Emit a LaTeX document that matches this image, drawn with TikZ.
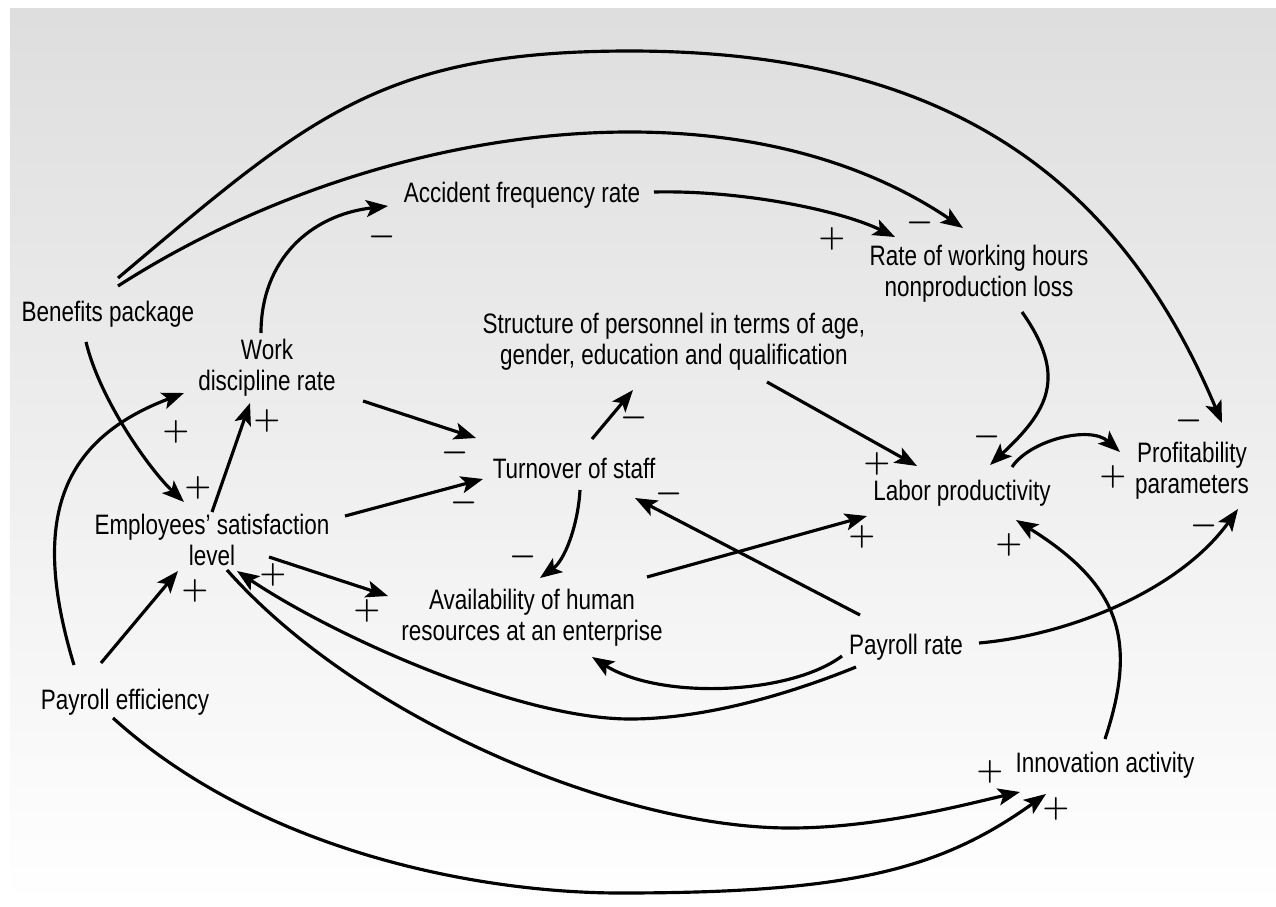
\documentclass[tikz,border=0pt]{standalone}
\usepackage{fontspec}
\setmainfont{Liberation Sans}[FakeStretch=0.8]
\usetikzlibrary{arrows.meta,calc}

\tikzset{
  factor/.style={align=center, inner sep=0pt, font=\fontsize{16}{17.5}\selectfont},
  link/.style={line width=1.8pt, -{Stealth[length=4.4mm,width=3.4mm,inset=1mm]}},
  sign/.style={inner sep=0pt, font=\fontsize{17}{17}\selectfont\boldmath},
}

\begin{document}
\begin{tikzpicture}[x=0.02cm, y=-0.02cm]
\useasboundingbox (0,0) rectangle (1276,907);
\shade[top color=black!13, bottom color=white] (10,8) rectangle (1276,907);

% factors
\node[factor] (ben) at (108,314) {Benefits package};
\node[factor] (acc) at (522,195) {Accident frequency rate};
\node[factor] (rwh) at (979,274) {Rate of working hours\\nonproduction loss};
\node[factor] (str) at (674,342) {Structure of personnel in terms of age,\\gender, education and qualification};
\node[factor] (wdr) at (267,368) {Work\\discipline rate};
\node[factor] (esl) at (212,540) {Employees’ satisfaction\\level};
\node[factor] (tos) at (574,468) {Turnover of staff};
\node[factor] (lab) at (962,493) {Labor productivity};
\node[factor] (prof) at (1192,471) {Profitability\\parameters};
\node[factor] (ahr) at (532,618) {Availability of human\\resources at an enterprise};
\node[factor] (pr) at (906,647) {Payroll rate};
\node[factor] (pe) at (125,702) {Payroll efficiency};
\node[factor] (inn) at (1105,765) {Innovation activity};

% turning points of the long arcs
\coordinate (topA) at (630,51);
\coordinate (lowB) at (630,719);
\coordinate (lowC) at (790,828);
\coordinate (lowD) at (620,893);

% links
\draw[link] ($(ben)+(10,-36)$) .. controls +(190,-160) and +(-250,0) .. (topA)
  .. controls +(320,0) and +(-102,-243) .. ($(prof)+(30,-48)$);
\draw[link] ($(ben)+(10,-28)$) .. controls +(252,-162) and +(-232,-157) .. ($(rwh)+(-16,-46)$);
\draw[link] ($(acc)+(132,-3)$) .. controls +(86,-2) and +(-55,-27) .. ($(rwh)+(-84,-37)$);
\draw[link] ($(wdr)+(-6,-35)$) .. controls +(0,-73) and +(-78,9) .. ($(acc)+(-134,11)$);
\draw[link] ($(rwh)+(43,38)$) .. controls +(46,65) and +(58,-54) .. ($(lab)+(28,-28)$);
\draw[link] ($(lab)+(50,-26)$) .. controls +(18,-27) and +(-30,-27) .. ($(prof)+(-72,-19)$);
\draw[link] ($(str)+(93,40)$) -- ($(lab)+(-45,-27)$);
\draw[link] ($(wdr)+(96,33)$) -- ($(tos)+(-98,-30)$);
\draw[link] ($(esl)+(133,-24)$) -- ($(tos)+(-91,11)$);
\draw[link] ($(tos)+(18,-29)$) -- ($(str)+(-41,48)$);
\draw[link] ($(tos)+(6,22)$) .. controls +(-2,35) and +(25,-18) .. ($(ahr)+(8,-40)$);
\draw[link] ($(pr)+(-46,-32)$) -- ($(tos)+(61,30)$);
\draw[link] ($(ahr)+(115,-41)$) -- ($(lab)+(-95,23)$);
\draw[link] ($(esl)+(57,17)$) -- ($(ahr)+(-144,-22)$);
\draw[link] ($(pr)+(-50,20)$) .. controls +(-74,30) and +(70,0) .. (lowB)
  .. controls +(-110,0) and +(100,67) .. ($(esl)+(25,31)$);
\draw[link] ($(pr)+(-64,9)$) .. controls +(-52,39) and +(68,43) .. ($(ahr)+(60,39)$);
\draw[link] ($(esl)+(15,30)$) .. controls +(133,150) and +(-170,0) .. (lowC)
  .. controls +(90,0) and +(-49,11) .. ($(inn)+(-85,27)$);
\draw[link] ($(pe)+(-12,16)$) .. controls +(148,134) and +(-140,0) .. (lowD)
  .. controls +(230,0) and +(-106,76) .. ($(inn)+(-59,29)$);
\draw[link] ($(pe)+(-24,-39)$) -- ($(esl)+(-34,31)$);
\draw[link] ($(pe)+(-51,-37)$) .. controls +(-44,-145) and +(-124,47) .. ($(wdr)+(-83,25)$);
\draw[link] ($(ben)+(-22,28)$) .. controls +(14,58) and +(-34,-32) .. ($(esl)+(-28,-38)$);
\draw[link] ($(esl)+(0,-28)$) -- ($(wdr)+(-17,35)$);
\draw[link] ($(pr)+(73,-4)$) .. controls +(91,-8) and +(-58,81) .. ($(prof)+(46,38)$);
\draw[link] ($(inn)+(0,-26)$) .. controls +(33,-99) and +(104,65) .. ($(lab)+(54,27)$);

% polarity signs
\foreach \sx/\sy/\sg [count=\i] in {382/237/-, 832/239/+, 920/223/-, 176/432/+,
  267/421/+, 455/453/-, 634/418/-, 1189/421/-, 987/437/-, 877/464/+, 1113/477/+,
  198/488/+, 464/503/-, 669/494/-, 862/537/+, 1204/526/-, 523/557/-, 273/575/+,
  195/591/+, 367/611/+, 1009/545/+, 990/772/+, 1056/809/+}
  \node[sign] (sign\i) at (\sx,\sy) {$\sg$};
\end{tikzpicture}
\end{document}
